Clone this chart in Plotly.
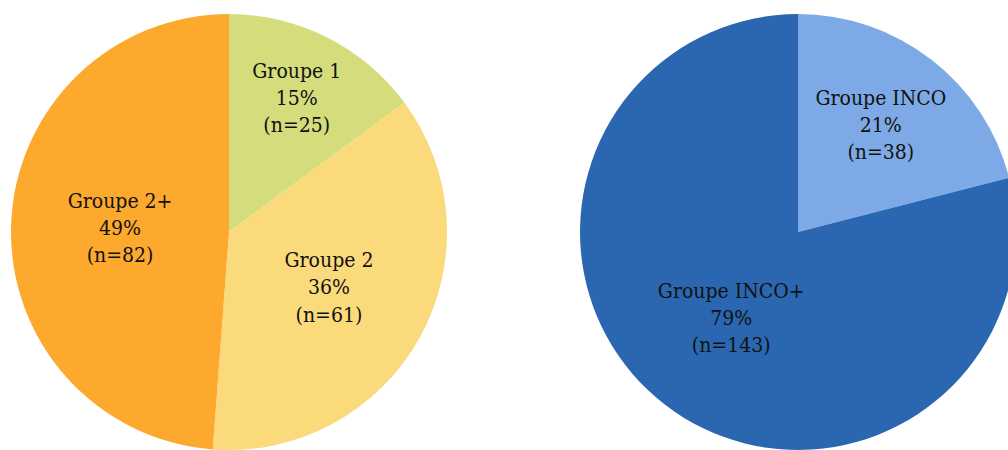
import plotly.graph_objects as go

# Répartition des groupes
groupes = ["Groupe 1", "Groupe 2", "Groupe 2+"]
effectifs_groupes = [25, 61, 82]
couleurs_groupes = ["#D4DC7C", "#FADA7A", "#FCA92E"]

# Répartition INCO
inco = ["Groupe INCO", "Groupe INCO+"]
effectifs_inco = [38, 143]
couleurs_inco = ["#7DAAE6", "#2A67B0"]

W, H = 1016, 450
police = dict(family="DejaVu Serif Condensed, DejaVu Serif", size=21, color="#111111")
modele = "%{label}<br>%{percent:.0%}<br>(n=%{value})"

fig = go.Figure()
fig.add_trace(go.Pie(
    labels=groupes, values=effectifs_groupes,
    marker=dict(colors=couleurs_groupes, line=dict(width=0)),
    sort=False, direction="clockwise", rotation=0,
    texttemplate=modele, textposition="inside",
    insidetextorientation="horizontal", textfont=police,
    domain=dict(x=[11 / W, 447 / W], y=[0, 436 / H]),
    showlegend=False,
))
fig.add_trace(go.Pie(
    labels=inco, values=effectifs_inco,
    marker=dict(colors=couleurs_inco, line=dict(width=0)),
    sort=False, direction="clockwise", rotation=0,
    texttemplate=modele, textposition="inside",
    insidetextorientation="horizontal", textfont=police,
    domain=dict(x=[580 / W, 1016 / W], y=[0, 436 / H]),
    showlegend=False,
))
fig.update_layout(
    width=W, height=H,
    margin=dict(l=0, r=0, t=0, b=0),
    paper_bgcolor="white",
    uniformtext=dict(minsize=21, mode="show"),
)
fig.write_html(
    "out.html",
    post_script="document.documentElement.style.overflow='hidden';"
                "document.body.style.overflow='hidden';document.body.style.margin='0';",
)
